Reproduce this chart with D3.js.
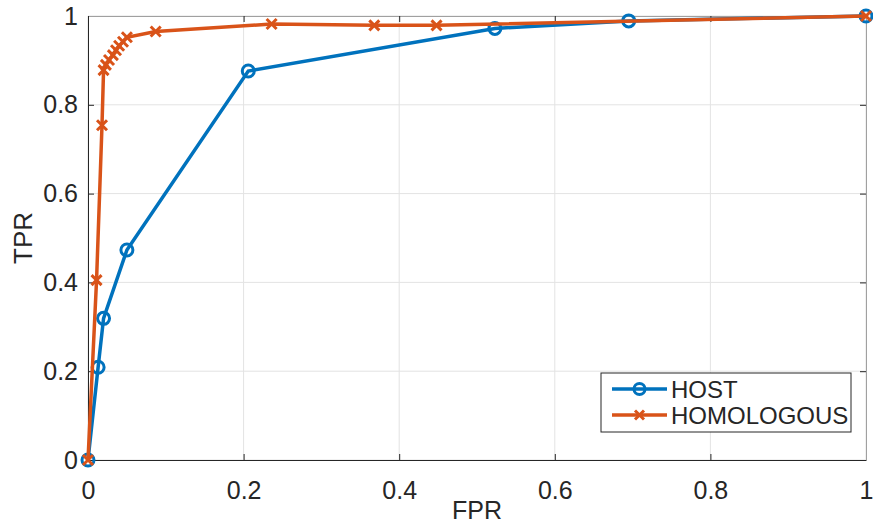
<!DOCTYPE html>
<html>
<head>
<meta charset="utf-8">
<script src="https://cdn.jsdelivr.net/npm/d3@7"></script>
<style>
  body { margin: 0; background: #fff; }
  text { font-family: "Liberation Sans", Arial, sans-serif; fill: #262626; }
</style>
</head>
<body>
<script>
// ROC points
var hostFpr = [0, 0.013, 0.020, 0.050, 0.206, 0.523, 0.695, 1]
var hostTpr = [0, 0.209, 0.319, 0.473, 0.876, 0.972, 0.989, 1]

var homFpr = [0, 0.011, 0.018, 0.020, 0.023, 0.027, 0.032, 0.036, 0.040, 0.045, 0.050, 0.087, 0.236, 0.368, 0.448, 1]
var homTpr = [0, 0.405, 0.754, 0.878, 0.890, 0.901, 0.912, 0.923, 0.933, 0.942, 0.952, 0.965, 0.982, 0.979, 0.979, 1]

var xTicks = [0, 0.2, 0.4, 0.6, 0.8, 1]
var yTicks = [0, 0.2, 0.4, 0.6, 0.8, 1]
var seriesNames = ["HOST", "HOMOLOGOUS"]

var width = 873, height = 526
var plotL = 88, plotR = 866, plotT = 16, plotB = 460

var blue = "#0072BD", orange = "#D95319"

var x = d3.scaleLinear().domain([0, 1]).range([plotL, plotR])
var y = d3.scaleLinear().domain([0, 1]).range([plotB, plotT])

var svg = d3.select("body").append("svg")
    .attr("width", width)
    .attr("height", height)

// grid
svg.append("g").selectAll("line")
    .data(xTicks)
    .enter().append("line")
    .attr("x1", d => x(d)).attr("x2", d => x(d))
    .attr("y1", plotT).attr("y2", plotB)
    .attr("stroke", "#e3e3e3").attr("stroke-width", 1)
svg.append("g").selectAll("line")
    .data(yTicks)
    .enter().append("line")
    .attr("x1", plotL).attr("x2", plotR)
    .attr("y1", d => y(d)).attr("y2", d => y(d))
    .attr("stroke", "#e3e3e3").attr("stroke-width", 1)

// axes, ticks inward like matlab
var xAxis = d3.axisBottom(x).tickValues(xTicks).tickSize(-6).tickPadding(21)
    .tickFormat(d => d3.format("")(d))
var yAxis = d3.axisLeft(y).tickValues(yTicks).tickSize(-6).tickPadding(10)
    .tickFormat(d => d3.format("")(d))

var gx = svg.append("g")
    .attr("transform", "translate(0," + plotB + ")")
    .call(xAxis)
var gy = svg.append("g")
    .attr("transform", "translate(" + plotL + ",0)")
    .call(yAxis)

var gx2 = svg.append("g")
    .attr("transform", "translate(0," + plotT + ")")
    .call(d3.axisTop(x).tickValues(xTicks).tickSize(-6).tickFormat(""))
var gy2 = svg.append("g")
    .attr("transform", "translate(" + plotR + ",0)")
    .call(d3.axisRight(y).tickValues(yTicks).tickSize(-6).tickFormat(""))

;[gx, gy, gx2, gy2].forEach(function (g) {
    g.select(".domain").attr("stroke", "#262626").attr("stroke-width", 1)
    g.selectAll(".tick line").attr("stroke", "#262626")
    g.selectAll(".tick text")
        .style("font-family", "Liberation Sans, Arial, sans-serif")
        .style("font-size", "25px")
        .attr("fill", "#262626")
})
gx2.select(".domain").attr("stroke", "#a0a0a0")
gy2.select(".domain").attr("stroke", "#a0a0a0")

// axis labels
svg.append("text")
    .attr("x", (plotL + plotR) / 2)
    .attr("y", 519)
    .attr("text-anchor", "middle")
    .style("font-size", "25px")
    .text("FPR")
svg.append("text")
    .attr("transform", "translate(32," + (plotT + plotB) / 2 + ") rotate(-90)")
    .attr("text-anchor", "middle")
    .style("font-size", "26px")
    .text("TPR")

var line = d3.line()
    .x(d => x(d[0]))
    .y(d => y(d[1]))

var hostData = hostFpr.map((v, i) => [v, hostTpr[i]])
var homData = homFpr.map((v, i) => [v, homTpr[i]])

function crossPath(s) {
    return "M" + (-s) + "," + (-s) + "L" + s + "," + s + "M" + (-s) + "," + s + "L" + s + "," + (-s)
}

// host line
svg.append("path")
    .attr("d", line(hostData))
    .attr("fill", "none")
    .attr("stroke", blue)
    .attr("stroke-width", 3.5)
svg.append("g").selectAll("circle")
    .data(hostData)
    .enter().append("circle")
    .attr("cx", d => x(d[0]))
    .attr("cy", d => y(d[1]))
    .attr("r", 6)
    .attr("fill", "none")
    .attr("stroke", blue)
    .attr("stroke-width", 3)

// homologous line
svg.append("path")
    .attr("d", line(homData))
    .attr("fill", "none")
    .attr("stroke", orange)
    .attr("stroke-width", 3.5)
svg.append("g").selectAll("path")
    .data(homData)
    .enter().append("path")
    .attr("transform", d => "translate(" + x(d[0]) + "," + y(d[1]) + ")")
    .attr("d", crossPath(5))
    .attr("stroke", orange)
    .attr("stroke-width", 3)

// legend
var lg = svg.append("g")
lg.append("rect")
    .attr("x", 601).attr("y", 373)
    .attr("width", 250).attr("height", 59)
    .attr("fill", "#fff")
    .attr("stroke", "#262626").attr("stroke-width", 1)

var legendColors = [blue, orange]
seriesNames.forEach(function (name, i) {
    var ly = 389 + i * 26
    lg.append("line")
        .attr("x1", 612).attr("x2", 667)
        .attr("y1", ly).attr("y2", ly)
        .attr("stroke", legendColors[i]).attr("stroke-width", 3.5)
    if (i == 0) {
        lg.append("circle")
            .attr("cx", 639.5).attr("cy", ly).attr("r", 5.5)
            .attr("fill", "none").attr("stroke", blue).attr("stroke-width", 3)
    } else {
        lg.append("path")
            .attr("transform", "translate(639.5," + ly + ")")
            .attr("d", crossPath(4.5))
            .attr("stroke", orange).attr("stroke-width", 3)
    }
    lg.append("text")
        .attr("x", 671).attr("y", ly + 8.5)
        .style("font-size", "24px")
        .attr("fill", "#000")
        .text(name)
})
</script>
</body>
</html>
